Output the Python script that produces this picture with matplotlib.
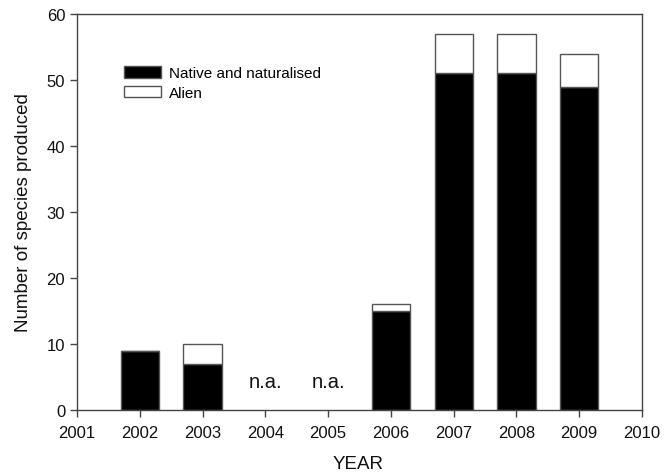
import matplotlib
matplotlib.use("Agg")
import matplotlib.pyplot as plt
import numpy as np

plt.rcParams['font.family'] = ['Liberation Sans', 'DejaVu Sans']

years = [2002, 2003, 2006, 2007, 2008, 2009]
native = [9, 7, 15, 51, 51, 49]
alien = [0, 3, 1, 6, 6, 5]
na_years = [2004, 2005]
xticks = list(range(2001, 2011))
yticks = [0, 10, 20, 30, 40, 50, 60]

fig = plt.figure(figsize=(6.71, 4.77), dpi=100)
ax = fig.add_axes([0.1148, 0.1384, 0.8420, 0.8302])

edge = '#555555'
width = 0.61
ax.bar(years, native, width=width, color='black', edgecolor=edge, linewidth=1.0,
       label='Native and naturalised', zorder=2)
ax.bar(years, alien, bottom=native, width=width, color='white', edgecolor=edge,
       linewidth=1.0, label='Alien', zorder=2)

for y in na_years:
    ax.text(y, 4.3, 'n.a.', ha='center', va='center', fontsize=14.5, color='#111111')

ax.set_xlim(2001, 2010)
ax.set_ylim(0, 60)
ax.set_xticks(xticks)
ax.set_yticks(yticks)
ax.tick_params(axis='both', direction='out', length=5, width=1, color='#444444',
               labelsize=12, labelcolor='#111111', top=False, right=False)
ax.tick_params(axis='x', pad=6)
for s in ax.spines.values():
    s.set_color('#444444')
    s.set_linewidth(1.0)

ax.set_xlabel('YEAR', fontsize=13.5, color='#111111')
ax.set_ylabel('Number of species produced', fontsize=13.5, color='#111111')
ax.xaxis.set_label_coords(0.497, -0.113)
ax.yaxis.set_label_coords(-0.080, 0.5)

ax.legend(loc='upper left', bbox_to_anchor=(0.072, 0.883), frameon=False,
          fontsize=11, handlelength=2.45, handleheight=0.75, handletextpad=0.5,
          labelspacing=0.35, borderaxespad=0)

fig.savefig('out.png', dpi=100)
